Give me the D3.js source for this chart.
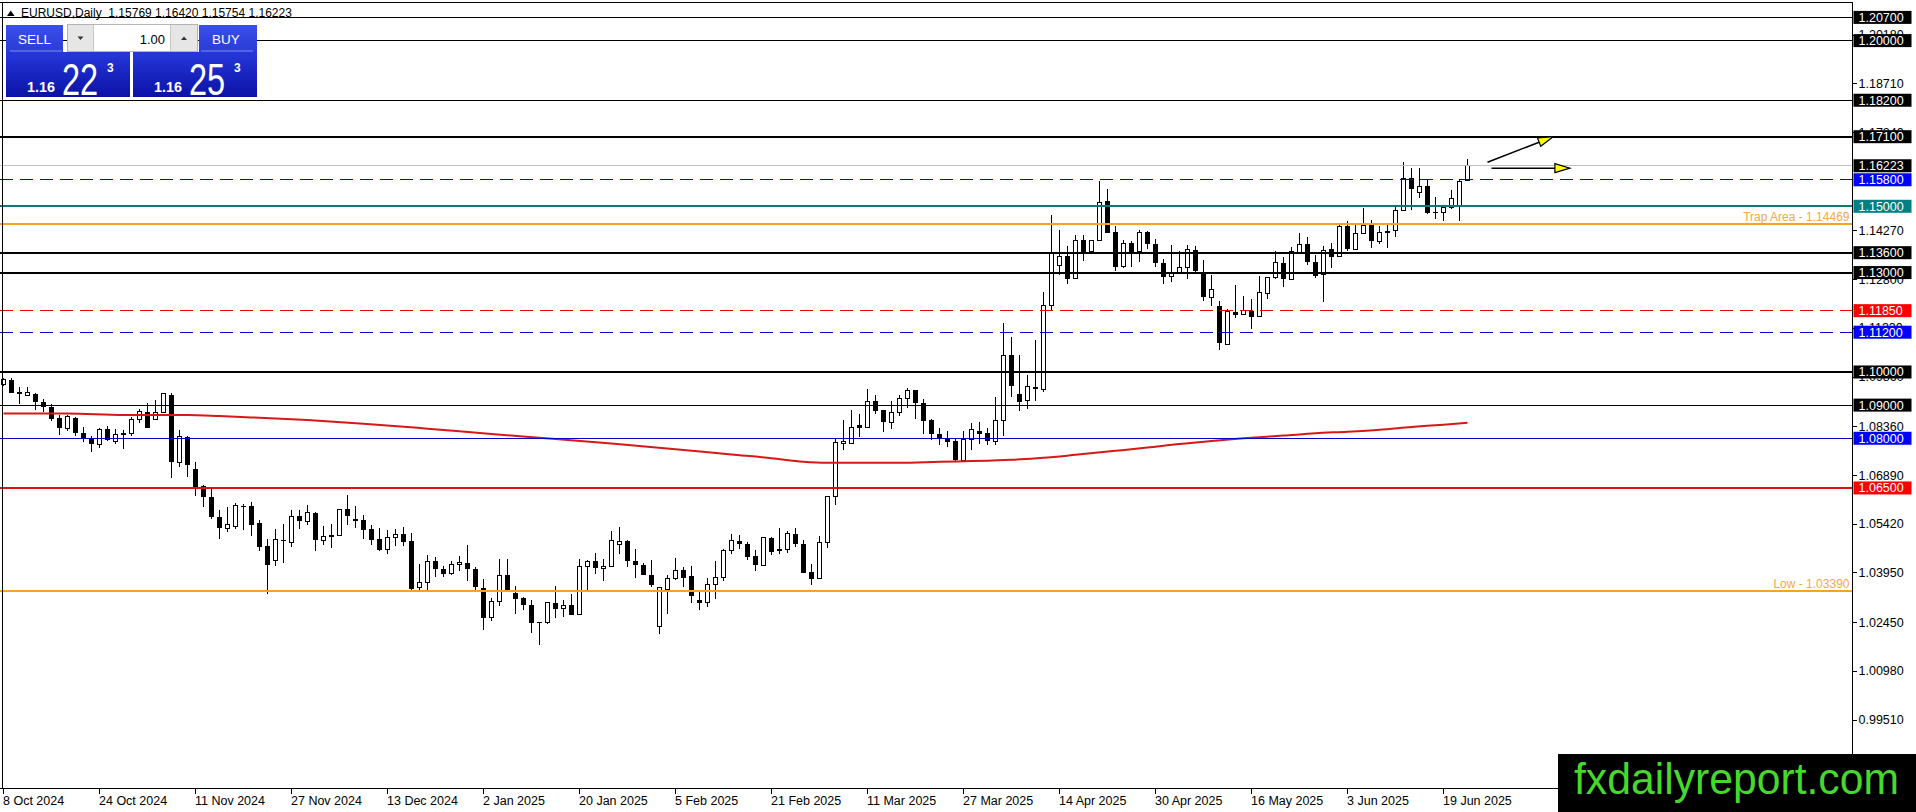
<!DOCTYPE html>
<html><head><meta charset="utf-8">
<script src="https://cdn.jsdelivr.net/npm/d3@7"></script>
<style>
html,body{margin:0;padding:0;background:#fff;overflow:hidden}
svg{display:block}
text{font-family:"Liberation Sans",Arial,sans-serif}
</style></head><body>
<svg id="chart" width="1916" height="812"></svg>
<script>
// ---------------- DATA ----------------
const dates = [
"2024-10-08","2024-10-09","2024-10-10","2024-10-11","2024-10-14","2024-10-15","2024-10-16","2024-10-17","2024-10-18","2024-10-21","2024-10-22","2024-10-23","2024-10-24","2024-10-25","2024-10-28","2024-10-29","2024-10-30","2024-10-31",
"2024-11-01","2024-11-04","2024-11-05","2024-11-06","2024-11-07","2024-11-08","2024-11-11","2024-11-12","2024-11-13","2024-11-14","2024-11-15","2024-11-18","2024-11-19","2024-11-20","2024-11-21","2024-11-22","2024-11-25","2024-11-26","2024-11-27","2024-11-28","2024-11-29",
"2024-12-02","2024-12-03","2024-12-04","2024-12-05","2024-12-06","2024-12-09","2024-12-10","2024-12-11","2024-12-12","2024-12-13","2024-12-16","2024-12-17","2024-12-18","2024-12-19","2024-12-20","2024-12-23","2024-12-24","2024-12-26","2024-12-27","2024-12-30","2024-12-31",
"2025-01-02","2025-01-03","2025-01-06","2025-01-07","2025-01-08","2025-01-09","2025-01-10","2025-01-13","2025-01-14","2025-01-15","2025-01-16","2025-01-17","2025-01-20","2025-01-21","2025-01-22","2025-01-23","2025-01-24","2025-01-27","2025-01-28","2025-01-29","2025-01-30","2025-01-31",
"2025-02-03","2025-02-04","2025-02-05","2025-02-06","2025-02-07","2025-02-10","2025-02-11","2025-02-12","2025-02-13","2025-02-14","2025-02-17","2025-02-18","2025-02-19","2025-02-20","2025-02-21","2025-02-24","2025-02-25","2025-02-26","2025-02-27","2025-02-28",
"2025-03-03","2025-03-04","2025-03-05","2025-03-06","2025-03-07","2025-03-10","2025-03-11","2025-03-12","2025-03-13","2025-03-14","2025-03-17","2025-03-18","2025-03-19","2025-03-20","2025-03-21","2025-03-24","2025-03-25","2025-03-26","2025-03-27","2025-03-28","2025-03-31",
"2025-04-01","2025-04-02","2025-04-03","2025-04-04","2025-04-07","2025-04-08","2025-04-09","2025-04-10","2025-04-11","2025-04-14","2025-04-15","2025-04-16","2025-04-17","2025-04-18","2025-04-21","2025-04-22","2025-04-23","2025-04-24","2025-04-25","2025-04-28","2025-04-29","2025-04-30",
"2025-05-01","2025-05-02","2025-05-05","2025-05-06","2025-05-07","2025-05-08","2025-05-09","2025-05-12","2025-05-13","2025-05-14","2025-05-15","2025-05-16","2025-05-19","2025-05-20","2025-05-21","2025-05-22","2025-05-23","2025-05-26","2025-05-27","2025-05-28","2025-05-29","2025-05-30",
"2025-06-02","2025-06-03","2025-06-04","2025-06-05","2025-06-06","2025-06-09","2025-06-10","2025-06-11","2025-06-12","2025-06-13","2025-06-16","2025-06-17","2025-06-18","2025-06-19","2025-06-20","2025-06-23","2025-06-24"
];

const openP = [
1.0962,1.0976,1.0941,1.0930,1.0934,1.0909,1.0893,1.0860,1.0830,1.0862,
1.0815,1.0800,1.0782,1.0827,1.0791,1.0811,1.0815,1.0857,1.0880,1.0857,
1.0878,1.0931,1.0727,1.0805,1.0707,1.0656,1.0624,1.0562,1.0529,1.0534,
1.0597,1.0595,1.0544,1.0474,1.0432,1.0490,1.0485,1.0564,1.0550,1.0575,
1.0492,1.0505,1.0506,1.0586,1.0557,1.0552,1.0525,1.0495,1.0464,1.0500,
1.0510,1.0489,1.0349,1.0364,1.0429,1.0404,1.0391,1.0419,1.0425,1.0405,
1.0349,1.0259,1.0308,1.0386,1.0334,1.0318,1.0296,1.0243,1.0244,1.0304,
1.0286,1.0296,1.0268,1.0414,1.0429,1.0407,1.0412,1.0480,1.0489,1.0429,
1.0419,1.0388,1.0232,1.0344,1.0376,1.0401,1.0383,1.0311,1.0304,1.0358,
1.0379,1.0462,1.0489,1.0480,1.0444,1.0417,1.0498,1.0462,1.0464,1.0510,
1.0482,1.0395,1.0377,1.0485,1.0623,1.0785,1.0784,1.0839,1.0832,1.0912,
1.0884,1.0849,1.0877,1.0920,1.0945,1.0905,1.0854,1.0812,1.0799,1.0791,
1.0734,1.0797,1.0821,1.0816,1.0791,1.0853,1.1050,1.0933,1.0913,1.0956,
1.0948,1.1201,1.1321,1.1349,1.1283,1.1397,1.1364,1.1397,1.1517,1.1423,
1.1317,1.1389,1.1364,1.1422,1.1386,1.1329,1.1288,1.1298,1.1314,1.1369,
1.1302,1.1226,1.1200,1.1082,1.1180,1.1174,1.1185,1.1167,1.1238,1.1285,
1.1329,1.1280,1.1362,1.1386,1.1331,1.1293,1.1371,1.1347,1.1440,1.1371,
1.1417,1.1443,1.1394,1.1420,1.1427,1.1488,1.1584,1.1541,1.1561,1.1482,
1.1480,1.1495,1.1500,1.15769
];
const highP = [
1.0981,1.0981,1.0954,1.0954,1.0936,1.0918,1.0904,1.0870,1.0870,1.0865,
1.0835,1.0807,1.0830,1.0837,1.0827,1.0825,1.0865,1.0887,1.0906,1.0914,
1.0936,1.0936,1.0825,1.0807,1.0727,1.0659,1.0654,1.0584,1.0594,1.0606,
1.0602,1.0608,1.0554,1.0497,1.0527,1.0542,1.0585,1.0583,1.0598,1.0578,
1.0534,1.0542,1.0588,1.0628,1.0595,1.0567,1.0537,1.0530,1.0522,1.0527,
1.0532,1.0514,1.0422,1.0447,1.0442,1.0414,1.0429,1.0444,1.0477,1.0410,
1.0376,1.0317,1.0435,1.0435,1.0354,1.0321,1.0311,1.0246,1.0306,1.0353,
1.0313,1.0329,1.0435,1.0432,1.0455,1.0437,1.0520,1.0532,1.0492,1.0467,
1.0424,1.0432,1.0351,1.0386,1.0440,1.0410,1.0414,1.0336,1.0379,1.0429,
1.0467,1.0512,1.0508,1.0487,1.0462,1.0503,1.0503,1.0528,1.0521,1.0528,
1.0492,1.0420,1.0505,1.0625,1.0799,1.0854,1.0886,1.0874,1.0948,1.0930,
1.0886,1.0913,1.0930,1.0953,1.0947,1.0917,1.0859,1.0832,1.0822,1.0802,
1.0822,1.0846,1.0849,1.0831,1.0926,1.1147,1.1107,1.1050,1.0991,1.1095,
1.1240,1.1475,1.1428,1.1379,1.1412,1.1412,1.1399,1.1576,1.1551,1.1440,
1.1399,1.1396,1.1428,1.1425,1.1402,1.1342,1.1384,1.1366,1.1384,1.1381,
1.1339,1.1293,1.1215,1.1190,1.1263,1.1230,1.1220,1.1291,1.1287,1.1366,
1.1347,1.1377,1.1420,1.1407,1.1352,1.1381,1.1389,1.1445,1.1457,1.1445,
1.1495,1.1460,1.1440,1.1445,1.1500,1.1634,1.1616,1.1616,1.1583,1.1529,
1.1502,1.1548,1.1583,1.16420
];
const lowP = [
1.0958,1.0936,1.0903,1.0928,1.0885,1.0880,1.0853,1.0810,1.0823,1.0807,
1.0790,1.0760,1.0770,1.0793,1.0782,1.0769,1.0807,1.0845,1.0830,1.0855,
1.0875,1.0681,1.0712,1.0684,1.0626,1.0594,1.0556,1.0496,1.0517,1.0526,
1.0522,1.0504,1.0460,1.0331,1.0414,1.0424,1.0472,1.0527,1.0537,1.0459,
1.0479,1.0469,1.0504,1.0537,1.0529,1.0495,1.0477,1.0459,1.0452,1.0474,
1.0474,1.0343,1.0343,1.0341,1.0381,1.0381,1.0388,1.0399,1.0369,1.0343,
1.0222,1.0250,1.0294,1.0340,1.0271,1.0283,1.0213,1.0177,1.0238,1.0259,
1.0261,1.0266,1.0266,1.0341,1.0391,1.0369,1.0410,1.0452,1.0412,1.0379,
1.0386,1.0351,1.0210,1.0269,1.0371,1.0351,1.0304,1.0281,1.0291,1.0316,
1.0369,1.0452,1.0467,1.0434,1.0400,1.0414,1.0449,1.0452,1.0454,1.0472,
1.0392,1.0357,1.0374,1.0470,1.0600,1.0766,1.0782,1.0804,1.0831,1.0874,
1.0819,1.0827,1.0867,1.0892,1.0857,1.0814,1.0796,1.0781,1.0774,1.0732,
1.0732,1.0764,1.0784,1.0779,1.0779,1.0806,1.0923,1.0881,1.0888,1.0913,
1.0941,1.1188,1.1293,1.1265,1.1280,1.1334,1.1362,1.1394,1.1418,1.1304,
1.1314,1.1317,1.1332,1.1371,1.1316,1.1265,1.1273,1.1295,1.1280,1.1302,
1.1213,1.1200,1.1066,1.1082,1.1163,1.1172,1.1130,1.1167,1.1220,1.1280,
1.1255,1.1278,1.1359,1.1324,1.1283,1.1210,1.1314,1.1346,1.1366,1.1369,
1.1415,1.1374,1.1387,1.1374,1.1406,1.1485,1.1488,1.1526,1.1478,1.1463,
1.1455,1.1492,1.1455,1.15754
];
const closeP = [
1.0976,1.0938,1.0933,1.0938,1.0909,1.0893,1.0858,1.0830,1.0865,1.0815,
1.0800,1.0782,1.0827,1.0794,1.0811,1.0813,1.0857,1.0880,1.0832,1.0878,
1.0934,1.0727,1.0805,1.0719,1.0654,1.0622,1.0561,1.0528,1.0541,1.0597,
1.0595,1.0537,1.0472,1.0419,1.0494,1.0492,1.0564,1.0550,1.0576,1.0492,
1.0505,1.0506,1.0586,1.0565,1.0550,1.0522,1.0492,1.0462,1.0500,1.0510,
1.0487,1.0346,1.0364,1.0429,1.0404,1.0391,1.0419,1.0425,1.0404,1.0351,
1.0259,1.0306,1.0386,1.0341,1.0316,1.0298,1.0243,1.0244,1.0304,1.0286,
1.0294,1.0268,1.0414,1.0429,1.0407,1.0414,1.0492,1.0489,1.0429,1.0419,
1.0388,1.0358,1.0349,1.0376,1.0401,1.0379,1.0324,1.0304,1.0358,1.0379,
1.0462,1.0490,1.0482,1.0442,1.0417,1.0501,1.0457,1.0464,1.0513,1.0482,
1.0394,1.0374,1.0485,1.0623,1.0787,1.0789,1.0832,1.0832,1.0912,1.0882,
1.0849,1.0877,1.0920,1.0945,1.0905,1.0852,1.0812,1.0799,1.0789,1.0734,
1.0797,1.0827,1.0814,1.0793,1.0853,1.1050,1.0959,1.0909,1.0956,1.0948,
1.1200,1.1359,1.1349,1.1280,1.1397,1.1362,1.1396,1.1512,1.1420,1.1316,
1.1389,1.1361,1.1420,1.1386,1.1329,1.1288,1.1298,1.1314,1.1369,1.1304,
1.1226,1.1250,1.1087,1.1182,1.1172,1.1185,1.1165,1.1241,1.1285,1.1329,
1.1280,1.1364,1.1386,1.1331,1.1291,1.1367,1.1347,1.1440,1.1371,1.1417,
1.1443,1.1394,1.1422,1.1425,1.1488,1.1584,1.1553,1.1561,1.1480,1.1480,
1.1495,1.1522,1.1576,1.16223
];

// moving average
const maDates = ["2024-10-08","2024-10-18","2024-10-29","2024-11-08","2024-11-14","2024-11-20","2024-11-29","2024-12-10","2024-12-20","2025-01-03","2025-01-15","2025-01-24","2025-02-05","2025-02-14","2025-02-21","2025-02-27","2025-03-04","2025-03-17","2025-03-24","2025-03-28","2025-04-01","2025-04-04","2025-04-10","2025-04-16","2025-04-23","2025-04-29","2025-05-05","2025-05-09","2025-05-15","2025-05-22","2025-05-28","2025-06-03","2025-06-09","2025-06-13","2025-06-19","2025-06-24"];
const maValues = [1.0875,1.0875,1.0870,1.0870,1.0867,1.0863,1.0855,1.0844,1.0829,1.0813,1.0798,1.0784,1.0767,1.0751,1.0740,1.0729,1.0726,1.0726,1.0729,1.0731,1.0732,1.0735,1.0741,1.0750,1.0762,1.0772,1.0783,1.0792,1.0800,1.0808,1.0815,1.0820,1.0826,1.0834,1.0841,1.0847];

// horizontal levels
const blackThinLevels = [1.20700, 1.20000, 1.18200, 1.09000];
const blackThickLevels = [1.17100, 1.13600, 1.13000, 1.10000];
const blueDashLevels = [1.15800, 1.11200];
const redDashLevels = [1.11850];
const blueSolidLevels = [1.08000];
const redSolidLevels = [1.06500];
const tealLevels = [1.15000];
const orangeLevels = [1.14469, 1.03390];
const orangeLevelNames = ["Trap Area", "Low"];
const bidPrice = 1.16223;
const askPrice = 1.16253;
const lotSize = "1.00";
const titleText = "EURUSD,Daily  1.15769 1.16420 1.15754 1.16223";

// price axis ticks (the one hidden under the 1.15800 label is omitted)
const priceTicks = [1.20180, 1.18710, 1.17240, 1.14270, 1.12800, 1.11330, 1.09860, 1.08360, 1.06890, 1.05420, 1.03950, 1.02450, 1.00980, 0.99510];
// time axis ticks
const timeTicks = ["2024-10-08","2024-10-24","2024-11-11","2024-11-27","2024-12-13","2025-01-02","2025-01-20","2025-02-05","2025-02-21","2025-03-11","2025-03-27","2025-04-14","2025-04-30","2025-05-16","2025-06-03","2025-06-19"];

// trend arrows (bar number counted from the first bar, price)
const arrowFromBar = [185.5, 186.0];
const arrowFromPrice = [1.16330, 1.16150];
const arrowToBar = [193.7, 195.8];
const arrowToPrice = [1.17100, 1.16150];

// ---------------- DRAW ----------------
const svg = d3.select("#chart");
const W = 1916, H = 812;
const axisX = 1852.5, axisY = 788.5;
const step = 8;
const x = d3.scalePoint().domain(dates).range([3.5, 3.5 + step * (dates.length - 1)]);
const xi = d3.scaleLinear().domain([0, dates.length - 1]).range([3.5, 3.5 + step * (dates.length - 1)]);
const y = d3.scaleLinear().domain([0.99510, 1.20700]).range([719.6, 17.4]);
const fmt = d3.format(".5f");

svg.append("rect").attr("width", W).attr("height", H).attr("fill", "#fff");

const defs = svg.append("defs");
defs.append("clipPath").attr("id", "plot").append("rect")
  .attr("x", 0).attr("y", 0).attr("width", axisX).attr("height", axisY);
function grad(id, c1, c2) {
  const g = defs.append("linearGradient").attr("id", id).attr("x1", 0).attr("y1", 0).attr("x2", 0).attr("y2", 1);
  g.append("stop").attr("offset", "0%").attr("stop-color", c1);
  g.append("stop").attr("offset", "100%").attr("stop-color", c2);
}
grad("btn", "#3a4fe8", "#2a3bd6");
grad("pan", "#2637da", "#0b12a6");

const plot = svg.append("g").attr("clip-path", "url(#plot)");

// candles
const idx = d3.range(dates.length);
const cg = plot.append("g").attr("shape-rendering", "crispEdges");
cg.selectAll("line.wick").data(idx).join("line")
  .attr("x1", i => x(dates[i])).attr("x2", i => x(dates[i]))
  .attr("y1", i => y(highP[i])).attr("y2", i => y(lowP[i]))
  .attr("stroke", "#000").attr("stroke-width", 1);
cg.selectAll("rect.body").data(idx).join("rect")
  .attr("x", i => closeP[i] >= openP[i] ? x(dates[i]) - 2 : x(dates[i]) - 2.5)
  .attr("width", i => closeP[i] >= openP[i] ? 4 : 5)
  .attr("y", i => y(Math.max(openP[i], closeP[i])))
  .attr("height", i => Math.max(closeP[i] >= openP[i] ? 0.01 : 1, Math.abs(y(openP[i]) - y(closeP[i]))))
  .attr("fill", i => closeP[i] >= openP[i] ? "#fff" : "#000")
  .attr("stroke", i => closeP[i] >= openP[i] ? "#000" : "none")
  .attr("stroke-width", 1);

// moving average
plot.append("path")
  .datum(maDates.map((d, i) => [x(d), y(maValues[i])]))
  .attr("d", d3.line().curve(d3.curveMonotoneX))
  .attr("fill", "none").attr("stroke", "#d81818").attr("stroke-width", 2);

// horizontal levels
const lg = plot.append("g").attr("shape-rendering", "crispEdges");
function hline(p, color, width, dash) {
  const l = lg.append("line").attr("x1", 0).attr("x2", axisX)
    .attr("y1", y(p)).attr("y2", y(p))
    .attr("stroke", color).attr("stroke-width", width);
  if (dash) l.attr("stroke-dasharray", dash);
}
hline(bidPrice, "#c0c0c0", 1);
blackThinLevels.forEach(p => hline(p, "#000", 1));
blackThickLevels.forEach(p => hline(p, "#000", 2));
blueDashLevels.forEach(p => hline(p, "#0000dd", 1, "13,7"));
redDashLevels.forEach(p => hline(p, "#ee0000", 1, "13,7"));
blueSolidLevels.forEach(p => hline(p, "#0000cc", 1));
redSolidLevels.forEach(p => hline(p, "#dd1010", 2));
tealLevels.forEach(p => hline(p, "#0b7b74", 2));
orangeLevels.forEach(p => hline(p, "#f5a51a", 2));

// level captions
orangeLevels.forEach((p, i) => {
  plot.append("text").attr("x", axisX - 3).attr("y", y(p) - 3)
    .attr("text-anchor", "end").attr("font-size", 12).attr("fill", "#f5a742")
    .text(orangeLevelNames[i] + " - " + fmt(p));
});

// arrows
arrowFromBar.forEach((b, i) => {
  const x1 = xi(b), y1 = y(arrowFromPrice[i]), x2 = xi(arrowToBar[i]), y2 = y(arrowToPrice[i]);
  const ang = Math.atan2(y2 - y1, x2 - x1), L = 15, hw = 4.5;
  const bx = x2 - L * Math.cos(ang), by = y2 - L * Math.sin(ang);
  plot.append("line").attr("x1", x1).attr("y1", y1).attr("x2", bx).attr("y2", by)
    .attr("stroke", "#000").attr("stroke-width", 1.6);
  const px = -Math.sin(ang), py = Math.cos(ang);
  plot.append("path")
    .attr("d", `M${x2},${y2}L${bx + px * hw},${by + py * hw}L${bx - px * hw},${by - py * hw}Z`)
    .attr("fill", "#ffff00").attr("stroke", "#000").attr("stroke-width", 1.2);
});

// frame & axes
const fg = svg.append("g").attr("shape-rendering", "crispEdges");
fg.append("line").attr("x1", 0).attr("x2", axisX).attr("y1", 2.5).attr("y2", 2.5).attr("stroke", "#000");
fg.append("line").attr("x1", 2.5).attr("x2", 2.5).attr("y1", 2.5).attr("y2", axisY).attr("stroke", "#000");
fg.append("line").attr("x1", axisX).attr("x2", axisX).attr("y1", 2.5).attr("y2", axisY).attr("stroke", "#000");
fg.append("line").attr("x1", 0).attr("x2", axisX).attr("y1", axisY).attr("y2", axisY).attr("stroke", "#000");

// price axis ticks
const pa = svg.append("g");
priceTicks.forEach(p => {
  pa.append("line").attr("x1", axisX).attr("x2", axisX + 4).attr("y1", Math.round(y(p)) + 0.5).attr("y2", Math.round(y(p)) + 0.5)
    .attr("stroke", "#000").attr("shape-rendering", "crispEdges");
  pa.append("text").attr("x", axisX + 6).attr("y", y(p) + 4.5).attr("font-size", 12.5).attr("fill", "#000").text(fmt(p));
});
// colored price labels
function plabel(p, bg) {
  pa.append("rect").attr("x", axisX + 1).attr("y", y(p) - 6.5).attr("width", 58).attr("height", 13).attr("fill", bg);
  pa.append("text").attr("x", axisX + 6).attr("y", y(p) + 4.5).attr("font-size", 12.5).attr("fill", "#fff").text(fmt(p));
}
blackThinLevels.forEach(p => plabel(p, "#000"));
blackThickLevels.forEach(p => plabel(p, "#000"));
blueDashLevels.forEach(p => plabel(p, "#0000ff"));
redDashLevels.forEach(p => plabel(p, "#ff0000"));
blueSolidLevels.forEach(p => plabel(p, "#0000ff"));
redSolidLevels.forEach(p => plabel(p, "#ff0000"));
tealLevels.forEach(p => plabel(p, "#008080"));
plabel(bidPrice, "#000");

// time axis
const parse = d3.timeParse("%Y-%m-%d"), tfmt = d3.timeFormat("%-d %b %Y");
const ta = svg.append("g");
timeTicks.forEach(d => {
  ta.append("line").attr("x1", x(d)).attr("x2", x(d)).attr("y1", axisY).attr("y2", axisY + 5)
    .attr("stroke", "#000").attr("shape-rendering", "crispEdges");
  ta.append("text").attr("x", x(d) - 0.5).attr("y", 804.5).attr("font-size", 12.5).attr("fill", "#000").text(tfmt(parse(d)));
});

// title
svg.append("path").attr("d", "M7,16L14.5,16L10.75,10.5Z").attr("fill", "#000");
svg.append("text").attr("x", 21).attr("y", 16.5).attr("font-size", 12).attr("fill", "#000")
  .attr("xml:space", "preserve").style("white-space", "pre").text(titleText);

// trade panel
const tp = svg.append("g");
tp.append("rect").attr("x", 6).attr("y", 25).attr("width", 57).attr("height", 27).attr("fill", "url(#btn)");
tp.append("line").attr("x1", 10).attr("x2", 62).attr("y1", 51).attr("y2", 51).attr("stroke", "#7d8cf0").attr("stroke-width", 1);
tp.append("text").attr("x", 34.5).attr("y", 44).attr("text-anchor", "middle").attr("font-size", 13.5).attr("fill", "#fff").text("SELL");
tp.append("rect").attr("x", 199).attr("y", 25).attr("width", 58).attr("height", 27).attr("fill", "url(#btn)");
tp.append("line").attr("x1", 201).attr("x2", 253).attr("y1", 51).attr("y2", 51).attr("stroke", "#7d8cf0").attr("stroke-width", 1);
tp.append("text").attr("x", 226).attr("y", 44).attr("text-anchor", "middle").attr("font-size", 13.5).attr("fill", "#fff").text("BUY");
// lot spinner
tp.append("rect").attr("x", 67.5).attr("y", 24.5).attr("width", 130).attr("height", 27).attr("fill", "#fff").attr("stroke", "#b4b4b4");
tp.append("rect").attr("x", 68).attr("y", 25).attr("width", 25).attr("height", 26).attr("fill", "#e6e6e6");
tp.append("rect").attr("x", 171).attr("y", 25).attr("width", 26).attr("height", 26).attr("fill", "#e6e6e6");
tp.append("line").attr("x1", 93.5).attr("x2", 93.5).attr("y1", 25).attr("y2", 51).attr("stroke", "#c8c8c8");
tp.append("line").attr("x1", 170.5).attr("x2", 170.5).attr("y1", 25).attr("y2", 51).attr("stroke", "#c8c8c8");
tp.append("path").attr("d", "M77.5,36.5L83.5,36.5L80.5,40Z").attr("fill", "#333");
tp.append("path").attr("d", "M181,40L187,40L184,36.5Z").attr("fill", "#333");
tp.append("text").attr("x", 165).attr("y", 43.5).attr("text-anchor", "end").attr("font-size", 13).attr("fill", "#000").text(lotSize);
// price boxes
function priceBox(x0, price) {
  const s = price.toFixed(5);
  tp.append("rect").attr("x", x0).attr("y", 52).attr("width", 124).attr("height", 45).attr("fill", "url(#pan)");
  tp.append("text").attr("x", x0 + 21).attr("y", 92).attr("font-size", 15).attr("font-weight", "bold").attr("fill", "#fff")
    .attr("textLength", 28).attr("lengthAdjust", "spacingAndGlyphs").text(s.slice(0, 4));
  tp.append("text").attr("transform", `translate(${x0 + 56},94.5) scale(1,1.38)`)
    .attr("font-size", 32.5).attr("fill", "#fff").text(s.slice(4, 6));
  tp.append("text").attr("x", x0 + 101).attr("y", 72).attr("font-size", 12).attr("font-weight", "bold").attr("fill", "#fff").text(s.slice(6, 7));
}
priceBox(6, bidPrice);
priceBox(133, askPrice);

// logo
svg.append("rect").attr("x", 1558).attr("y", 754).attr("width", 358).attr("height", 58).attr("fill", "#000");
svg.append("text").attr("x", 1574).attr("y", 794).attr("font-size", 44).attr("fill", "#47d82c")
  .attr("textLength", 325).attr("lengthAdjust", "spacingAndGlyphs").text("fxdailyreport.com");
</script>
</body></html>
